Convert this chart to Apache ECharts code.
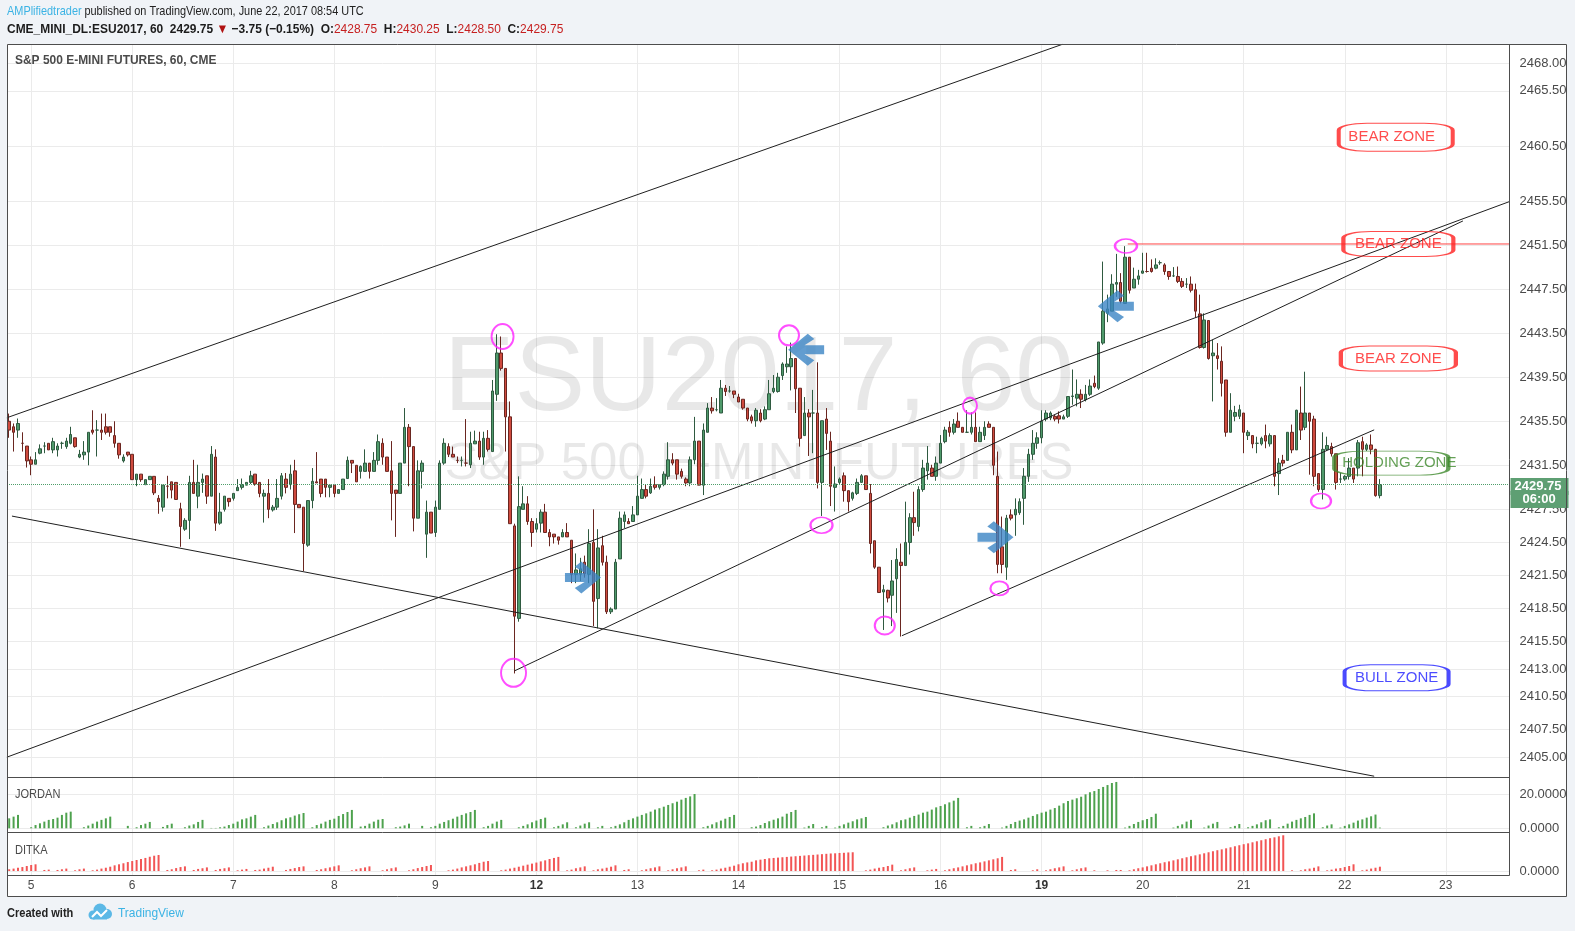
<!DOCTYPE html>
<html><head><meta charset="utf-8">
<script src="https://cdn.jsdelivr.net/npm/echarts@6/dist/echarts.min.js"></script>
<style>html,body{margin:0;padding:0;background:#f0f3f7;}#c{width:1575px;height:931px;}</style>
</head><body><div id="c"></div>
<script>
// ---------------- DATA ----------------
const dayLabels = ['5','6','7','8','9','12','13','14','15','16','19','20','21','22','23'];
const weekStartLabels = ['12','19'];
const FIRST_DAY_INDEX = 5, BARS_PER_DAY = 23, N_SLOTS = 342;

const opens = [
2435.5,2435.0,2434.7,2433.5,2433.25,2432.0,2431.6,2432.6,2433.25,2433.5,
2432.9,2432.9,2433.5,2433.2,2433.5,2434.0,2432.25,2432.45,2432.7,2434.7,
2434.7,2434.7,2435.0,2435.0,2434.2,2433.5,2431.9,2432.7,2432.5,2430.2,
2430.7,2429.75,2430.2,2430.5,2428.5,2427.7,2429.6,2430.0,2429.95,2427.55,
2425.7,2426.5,2429.95,2428.7,2429.95,2430.55,2428.7,2432.25,2426.25,2427.5,
2428.5,2428.5,2429.2,2429.5,2429.7,2429.95,2430.7,2429.95,2428.7,2428.95,
2427.45,2427.7,2428.7,2430.25,2429.75,2431.0,2427.95,2427.7,2424.25,2428.3,
2430.0,2430.25,2430.25,2429.5,2429.7,2428.95,2429.3,2430.3,2431.95,2431.5,
2430.95,2430.95,2431.7,2430.95,2431.95,2433.5,2432.25,2431.0,2429.25,2428.95,
2431.7,2434.95,2433.2,2426.7,2430.95,2425.25,2427.25,2425.4,2427.5,2431.7,
2433.2,2432.5,2431.95,2431.95,2431.7,2431.55,2433.45,2433.7,2432.25,2433.95,
2432.75,2437.95,2441.7,2440.3,2435.9,2426.0,2417.6,2427.5,2428.0,2426.4,
2425.7,2426.25,2427.25,2425.4,2425.25,2425.0,2425.0,2425.4,2424.7,2421.6,
2421.6,2422.7,2421.6,2424.5,2419.4,2424.2,2422.7,2418.2,2418.45,2423.0,
2426.4,2426.4,2426.4,2427.0,2428.5,2429.3,2429.0,2429.75,2429.5,2429.75,
2430.5,2432.0,2432.0,2430.95,2430.25,2429.9,2432.0,2433.7,2429.7,2434.5,
2436.7,2436.55,2436.25,2438.5,2438.25,2438.25,2437.7,2437.5,2436.7,2435.9,
2435.55,2436.25,2435.7,2436.55,2438.2,2438.2,2439.65,2440.45,2440.45,2441.2,
2438.5,2434.2,2436.25,2436.25,2436.25,2429.95,2435.7,2433.7,2429.5,2429.95,
2430.55,2429.2,2428.5,2428.95,2429.95,2430.55,2428.95,2424.65,2422.25,2420.0,
2420.15,2419.7,2421.2,2422.7,2422.4,2424.5,2426.75,2425.95,2429.3,2431.0,
2431.25,2430.5,2431.7,2433.65,2434.95,2434.5,2435.5,2434.95,2434.5,2434.5,
2434.95,2433.65,2434.2,2435.25,2434.95,2430.5,2424.1,2422.25,2427.0,2427.0,
2427.2,2428.5,2430.5,2432.5,2433.5,2434.0,2435.7,2435.8,2435.95,2436.0,
2435.7,2435.95,2437.75,2437.6,2437.95,2437.45,2437.95,2438.95,2438.5,2442.6,
2445.3,2445.5,2447.95,2448.1,2446.2,2450.4,2447.6,2448.4,2448.95,2449.1,
2449.4,2449.4,2449.9,2449.7,2449.1,2448.7,2448.65,2448.2,2447.95,2447.95,
2447.45,2445.25,2442.2,2444.65,2441.45,2441.45,2440.95,2439.25,2434.5,2435.95,
2435.95,2436.25,2434.2,2434.2,2433.5,2433.45,2434.2,2433.45,2434.2,2430.75,
2431.95,2431.95,2434.5,2432.9,2436.25,2434.95,2436.25,2435.7,2430.75,2429.3,
2432.95,2433.2,2432.55,2430.25,2430.25,2430.5,2431.25,2431.25,2433.65,2432.95,
2433.35,2432.95,2428.75];
const closes = [
2434.7,2434.5,2435.3,2433.5,2431.9,2431.6,2432.0,2433.0,2433.25,2432.9,
2433.65,2433.25,2433.5,2433.7,2434.3,2433.2,2432.5,2432.7,2434.5,2434.5,
2434.7,2434.5,2434.5,2434.5,2433.5,2432.45,2432.25,2432.45,2430.2,2430.7,
2430.2,2430.2,2430.5,2429.0,2428.2,2429.7,2429.6,2429.25,2428.4,2425.95,
2426.5,2429.95,2428.95,2429.95,2430.25,2428.7,2432.5,2426.25,2427.25,2428.7,
2428.2,2428.95,2429.5,2429.75,2429.95,2430.55,2429.8,2428.95,2428.95,2427.5,
2427.7,2428.5,2430.55,2429.5,2430.7,2427.95,2427.65,2424.4,2428.3,2430.05,
2429.9,2428.95,2429.5,2429.7,2428.95,2429.3,2430.25,2431.95,2431.7,2430.0,
2431.4,2431.7,2430.95,2431.95,2433.65,2432.25,2430.95,2428.95,2428.95,2431.7,
2434.95,2433.2,2426.7,2431.0,2431.7,2427.25,2425.35,2427.7,2431.7,2433.5,
2432.5,2432.25,2431.95,2431.95,2431.7,2433.5,2433.7,2432.25,2433.95,2432.95,
2438.25,2441.7,2440.3,2435.9,2426.2,2417.8,2427.75,2428.0,2426.4,2425.4,
2426.2,2427.25,2425.4,2425.0,2425.0,2424.7,2425.4,2425.0,2421.6,2422.0,
2422.1,2421.65,2424.4,2419.15,2424.0,2422.7,2418.2,2418.45,2422.7,2426.7,
2427.0,2426.2,2427.0,2428.7,2429.3,2428.7,2429.6,2429.5,2429.75,2430.7,
2432.0,2431.7,2430.7,2430.5,2429.9,2432.0,2433.7,2429.7,2434.7,2436.7,
2436.45,2436.55,2438.5,2438.2,2438.25,2437.95,2437.25,2436.7,2435.7,2435.55,
2436.5,2435.55,2436.55,2438.0,2438.5,2439.5,2440.7,2440.7,2441.2,2438.45,
2433.95,2436.25,2435.9,2436.25,2429.95,2435.55,2434.4,2429.6,2429.8,2430.25,
2429.2,2428.2,2429.0,2429.95,2430.55,2429.3,2424.4,2422.25,2419.95,2420.2,
2419.45,2421.0,2422.95,2422.4,2424.5,2426.75,2426.3,2429.3,2431.25,2431.7,
2430.5,2431.7,2433.5,2434.7,2434.5,2435.25,2434.95,2434.5,2434.5,2434.95,
2433.65,2434.5,2434.95,2434.95,2431.5,2422.5,2422.5,2426.7,2426.7,2427.5,
2428.2,2430.5,2432.5,2433.5,2434.0,2435.5,2436.25,2436.25,2435.7,2435.7,
2435.9,2437.75,2437.8,2437.95,2437.5,2437.95,2438.7,2438.65,2442.7,2445.5,
2445.7,2447.95,2448.1,2446.4,2450.4,2447.4,2448.4,2448.7,2449.15,2449.1,
2449.1,2449.7,2449.9,2449.1,2448.65,2448.7,2448.2,2447.75,2447.95,2447.4,
2445.5,2442.2,2444.7,2441.2,2441.7,2441.2,2438.95,2434.5,2436.5,2436.3,
2436.55,2434.5,2434.5,2433.45,2433.5,2433.95,2433.7,2434.2,2430.5,2431.7,
2431.7,2434.5,2432.9,2436.5,2434.7,2436.25,2435.5,2430.5,2429.3,2432.95,
2433.3,2432.55,2429.95,2430.25,2430.5,2431.25,2430.25,2433.55,2432.95,2433.35,
2432.95,2428.75,2429.75];
const lows = [
2434.0,2432.75,2434.0,2432.75,2431.3,2430.6,2431.6,2432.5,2432.6,2432.9,
2432.6,2432.3,2433.0,2433.0,2433.4,2433.1,2432.15,2432.0,2431.5,2434.3,
2432.3,2433.8,2434.3,2434.1,2433.1,2432.1,2431.75,2432.3,2430.2,2429.6,
2430.0,2429.7,2430.2,2428.8,2427.1,2427.3,2428.5,2428.5,2428.4,2424.1,
2425.55,2424.8,2428.95,2427.6,2429.0,2428.0,2428.7,2425.55,2426.1,2427.3,
2427.75,2428.3,2429.2,2429.3,2429.7,2429.8,2429.65,2428.6,2426.3,2426.7,
2427.3,2427.45,2428.4,2428.95,2429.3,2425.35,2427.65,2421.9,2424.1,2427.6,
2429.9,2428.6,2428.6,2428.6,2428.6,2428.95,2429.3,2430.3,2430.8,2430.0,
2430.3,2430.95,2430.3,2430.95,2431.55,2431.55,2430.95,2426.5,2425.0,2428.95,
2431.7,2429.6,2425.5,2426.7,2429.4,2423.1,2425.35,2425.0,2427.5,2431.55,
2432.25,2432.25,2431.7,2431.4,2431.4,2431.25,2433.45,2432.0,2431.55,2432.75,
2432.75,2437.35,2440.1,2432.75,2426.2,2412.6,2417.3,2427.5,2426.1,2424.1,
2425.4,2425.4,2425.4,2424.15,2424.4,2424.3,2425.0,2425.0,2420.8,2420.8,
2421.0,2421.3,2420.8,2416.9,2416.7,2422.4,2418.0,2418.0,2418.45,2423.0,
2425.8,2426.2,2426.4,2427.0,2428.5,2428.5,2428.9,2429.3,2429.3,2429.6,
2430.2,2431.5,2430.2,2430.3,2429.6,2429.6,2431.6,2429.7,2428.8,2434.5,
2436.2,2436.4,2436.25,2437.8,2438.1,2437.6,2437.25,2436.55,2435.5,2435.3,
2435.0,2435.4,2435.6,2436.55,2438.05,2438.1,2439.25,2439.9,2438.3,2436.25,
2433.2,2434.2,2432.35,2432.6,2429.4,2426.9,2432.9,2427.8,2427.3,2429.8,
2428.2,2427.3,2428.3,2428.8,2429.95,2429.3,2423.5,2422.1,2419.95,2416.55,
2419.05,2416.9,2418.1,2415.95,2422.4,2423.4,2425.1,2425.5,2429.1,2430.2,
2430.5,2430.1,2431.7,2433.5,2434.1,2434.3,2434.95,2434.5,2434.45,2434.3,
2433.65,2433.65,2433.8,2434.95,2430.6,2421.7,2421.7,2421.1,2426.5,2425.1,
2427.0,2426.1,2430.0,2432.0,2433.0,2433.5,2435.5,2435.6,2435.5,2435.3,
2435.7,2435.8,2437.0,2436.85,2436.7,2437.3,2437.8,2438.5,2438.35,2442.45,
2444.5,2445.5,2446.8,2446.2,2446.2,2447.1,2447.6,2447.9,2448.9,2449.0,
2449.0,2449.3,2449.7,2448.8,2448.35,2448.6,2448.05,2447.6,2447.6,2447.2,
2444.9,2442.1,2442.1,2441.1,2437.3,2440.2,2437.75,2434.1,2434.5,2435.5,
2435.7,2432.6,2433.8,2433.05,2432.6,2433.3,2433.05,2433.2,2429.6,2428.8,
2431.4,2431.9,2432.6,2432.9,2433.8,2434.7,2430.65,2429.6,2429.1,2428.4,
2432.8,2432.3,2429.3,2429.9,2430.1,2430.2,2429.9,2430.5,2430.5,2432.8,
2432.5,2428.65,2428.5];
const highs = [
2436.2,2435.3,2435.75,2434.5,2433.25,2432.3,2432.7,2433.4,2433.6,2433.5,
2434.0,2433.5,2433.65,2434.0,2435.0,2434.0,2432.9,2433.7,2434.5,2436.5,
2435.6,2436.2,2436.2,2435.0,2435.5,2433.5,2432.5,2432.7,2432.5,2430.7,
2430.7,2430.2,2430.5,2430.5,2428.8,2429.7,2430.55,2430.0,2429.95,2428.1,
2426.7,2430.55,2432.0,2431.55,2430.75,2430.55,2433.25,2432.95,2429.0,2428.7,
2428.5,2428.95,2430.25,2430.3,2429.95,2431.0,2430.7,2429.95,2429.3,2430.25,
2427.9,2430.25,2430.8,2430.8,2431.55,2432.0,2427.95,2427.7,2428.3,2431.25,
2432.7,2430.25,2430.25,2429.7,2429.7,2429.3,2430.25,2432.3,2431.95,2431.5,
2431.5,2432.95,2431.7,2432.7,2434.3,2433.95,2432.25,2433.7,2429.25,2431.7,
2436.7,2435.25,2433.2,2431.95,2431.95,2428.3,2427.25,2428.3,2431.95,2433.95,
2433.5,2433.2,2432.3,2432.3,2435.7,2434.55,2434.65,2434.55,2434.55,2434.7,
2439.25,2443.4,2443.2,2440.3,2437.3,2426.2,2430.5,2429.6,2428.7,2426.7,
2426.7,2427.5,2428.0,2425.7,2425.25,2425.0,2425.7,2426.25,2424.7,2423.5,
2423.1,2423.3,2425.7,2427.5,2425.7,2425.1,2423.3,2418.6,2423.0,2427.3,
2427.3,2426.7,2427.8,2430.55,2430.3,2429.75,2430.3,2430.5,2429.75,2430.95,
2433.6,2432.6,2432.0,2431.2,2430.4,2432.3,2435.9,2433.7,2435.3,2437.15,
2437.7,2437.6,2439.25,2438.8,2438.7,2438.25,2438.0,2437.5,2436.7,2436.1,
2436.7,2436.6,2436.85,2439.25,2439.7,2439.9,2440.85,2442.3,2442.65,2441.2,
2438.5,2437.7,2436.6,2438.35,2440.85,2435.55,2436.7,2434.55,2431.4,2430.4,
2430.85,2429.2,2429.1,2430.3,2430.7,2430.55,2429.8,2424.65,2422.25,2420.65,
2420.2,2422.9,2423.97,2424.4,2428.2,2427.15,2429.1,2429.6,2432.0,2433.25,
2431.55,2432.3,2434.25,2435.0,2435.5,2435.7,2436.3,2434.95,2436.5,2436.3,
2436.3,2435.0,2435.5,2435.5,2434.95,2432.75,2426.85,2427.0,2427.5,2428.5,
2428.5,2431.25,2433.0,2434.7,2434.5,2436.5,2436.5,2436.4,2436.1,2436.4,
2436.1,2437.75,2440.2,2439.3,2438.4,2438.8,2439.3,2439.65,2442.7,2450.0,
2447.0,2448.85,2450.7,2448.95,2451.4,2450.4,2449.45,2449.25,2450.8,2450.8,
2450.2,2450.3,2450.1,2449.85,2449.1,2449.5,2449.55,2448.5,2448.5,2448.65,
2448.0,2447.0,2445.3,2444.65,2442.9,2442.6,2442.3,2439.25,2438.05,2436.9,
2437.0,2436.25,2434.7,2434.2,2434.1,2434.1,2435.2,2434.4,2434.2,2432.15,
2432.45,2434.5,2435.2,2436.55,2438.65,2440.0,2436.25,2436.0,2430.75,2434.5,
2434.1,2433.55,2432.55,2430.8,2430.6,2432.15,2431.25,2433.8,2434.1,2433.5,
2434.3,2433.0,2430.25];

const jordan = [
5.8,6.8,7.8,0,0,0.6,1.9,2.9,3.9,4.9,
5.4,6.2,7.8,9.1,9.7,0,0,0.6,1.6,2.7,
3.9,4.9,5.8,6.8,0,0,0,1.4,0,0.6,
1.9,2.7,3.7,0,0,0.8,1.9,2.7,0,0,
0.6,1.6,2.3,3.7,4.9,0,0.2,0.2,0.6,1.0,
1.9,2.7,3.9,5.2,5.8,6.8,7.8,0,0.6,1.6,
2.5,3.5,4.7,5.8,6.4,7.4,8.2,8.9,0,0.6,
1.9,2.7,3.9,4.9,5.6,7.2,8.3,9.5,10.7,0,
1.0,1.4,2.7,3.9,5.0,5.4,0,0,0.6,1.0,
1.7,2.7,0,0,1.4,0,0.6,1.4,2.7,3.7,
4.7,5.6,6.8,7.8,8.7,9.5,10.7,0,0.6,1.4,
2.7,3.9,4.9,0,0,0,0.6,1.4,2.3,3.5,
4.5,5.4,6.2,0,0.6,1.4,2.3,3.5,0,0.6,
1.6,2.7,3.5,0,0.6,1.4,0,0.6,1.4,2.3,
3.5,4.9,5.8,6.8,7.8,8.7,9.7,10.9,11.7,12.6,
13.6,14.6,15.5,16.7,17.7,18.6,20.0,0,0.6,1.4,
2.3,3.5,4.5,5.6,6.6,7.8,0,0,0,0.6,
1.0,1.9,3.1,4.1,5.0,5.8,6.8,8.5,9.5,10.7,
0,0.4,1.4,2.5,0,0.6,1.4,0,0.4,1.4,
2.3,3.3,4.1,5.2,5.8,6.6,0,0,0,0.6,
1.6,2.3,3.5,4.7,5.2,6.2,7.2,8.0,9.1,9.7,
10.9,12.2,13.0,14.0,15.1,16.1,17.7,0,0.6,1.4,
0,0.6,1.4,2.5,0,0,0.4,1.4,2.5,3.7,
4.5,5.2,6.2,7.2,8.2,9.1,9.7,10.9,11.8,13.2,
14.6,15.9,16.7,17.5,18.4,19.8,21.0,21.7,22.9,24.1,
25.2,26.4,27.0,0,0.4,1.4,2.5,3.7,4.7,5.4,
6.6,8.5,0,0,0,0.4,1.4,2.3,3.9,4.9,
0,0,0.4,1.6,2.7,3.7,0,0,0.6,1.4,
2.5,0,0.6,1.4,2.3,3.5,4.7,5.2,0,0.6,
1.4,2.7,3.9,4.9,5.8,6.6,7.8,8.7,0,0.6,
1.6,2.3,0,0.4,1.4,2.3,3.3,4.5,5.2,6.2,
7.0,8.0,0.4];
const ditka = [
1.0,1.4,1.9,2.3,2.9,3.5,3.9,0,0.6,0.8,
0,0.6,1.0,1.4,0,0.4,1.0,1.4,0,0.4,
0.8,1.4,1.9,2.5,3.3,3.9,4.5,5.2,5.8,6.4,
7.0,7.6,8.3,8.9,9.3,0,0.6,1.0,1.7,2.3,
2.7,0,0.6,1.2,1.6,2.1,0,0.6,1.2,1.6,
2.1,0,0.4,0.8,1.2,0,0.6,0.8,1.4,1.9,
2.5,0,0,0.6,1.2,1.7,2.3,2.7,0,0,
0.6,1.0,1.6,2.1,2.7,3.3,0,0,0.4,1.0,
1.6,2.1,2.7,0,0,0.4,1.0,1.6,2.1,0,
0,0.4,1.0,1.7,2.3,2.9,3.5,0,0,0,
0.4,0.8,1.4,2.1,2.7,3.3,3.9,4.7,5.4,5.8,
0,0,0.4,0.8,1.4,1.9,2.5,3.1,3.7,4.3,
4.9,5.6,6.2,7.0,7.6,8.2,0,0.4,0.8,1.6,
2.1,2.7,0,0.4,1.0,1.4,1.9,2.5,3.3,0,
0.6,1.0,0,0,0.4,1.0,1.6,2.1,2.7,0,
0.4,1.0,1.6,2.1,2.7,0,0,0.4,0.8,0,
0.4,0.8,1.4,1.9,2.5,3.1,3.9,4.5,5.0,5.4,
6.2,6.6,7.0,7.4,7.6,7.8,8.0,8.2,8.4,8.6,
8.8,9.0,9.2,9.4,9.6,9.8,10.0,10.2,10.3,10.5,
10.6,10.8,10.9,0,0,0.4,0.8,1.4,1.9,2.3,
2.9,3.7,0,0.4,1.0,1.6,2.1,0,0,0.4,
0.8,1.2,0,0.4,1.0,1.6,2.1,2.7,3.3,3.9,
4.5,5.0,5.6,6.2,6.8,7.4,8.2,0,0.6,1.0,
0,0,0,0.4,1.0,0,0.4,1.0,1.6,2.1,
2.7,0,0.4,1.0,1.6,2.1,0,0.4,0,0,
0.4,0,0.6,0.6,0,0.4,1.0,1.6,2.1,2.7,
3.3,3.9,4.5,5.1,5.6,6.2,6.8,7.4,8.0,8.6,
9.1,9.7,10.3,10.9,11.5,12.1,12.6,13.2,13.8,14.4,
15.0,15.6,16.1,16.7,17.3,17.9,18.5,19.1,19.6,20.2,
20.8,0,0.4,0,0.4,1.0,1.4,1.9,2.7,0,
0.4,0.8,1.4,1.7,2.3,2.9,3.9,0,0.4,0.8,
1.4,1.9,2.5];

const priceTicks = [2468.00,2465.50,2460.50,2455.50,2451.50,2447.50,2443.50,2439.50,2435.50,2431.50,2427.50,2424.50,2421.50,2418.50,2415.50,2413.00,2410.50,2407.50,2405.00];
const jordanTicks = [0, 20];
const ditkaTicks = [0];

// drawn annotations (bar index, price)
const trendLines = [
  [[-0.53, 2435.82], [239.8, 2469.74]],
  [[0.63, 2426.89], [310.7, 2403.27]],
  [[-0.53, 2405.0], [341.5, 2455.45]],
  [[203.2, 2416.03], [310.7, 2434.72]],
  [[115.05, 2412.84], [330.9, 2453.69]]
];
const resistanceLine = [[254.6, 2451.6], [341.5, 2451.6]];
const circlePoints = [[112.3,2443.2],[114.8,2412.66],[177.5,2443.3],[184.9,2426.06],[199.3,2416.95],[218.7,2436.92],[225.4,2420.32],[254.2,2451.41],[298.6,2428.26]];
const arrowPoints = [[130.6,2421.32],[181.4,2442.0],[224.5,2424.97],[251.9,2445.94]];
const arrowDirections = ['right','left','right','left'];
const zoneNames = ['BEAR ZONE','BEAR ZONE','BEAR ZONE','HOLDING ZONE','BULL ZONE'];
const zonePoints = [[315.6,2461.3],[316.2,2451.6],[316.2,2441.2],[314.6,2431.7],[315.8,2412.2]];

// ---------------- STYLES ----------------
const circleSizes = [[22,25],[25,28],[20,20],[22,16],[20,18],[14,16],[18,14],[22,14],[20,15]];
const zoneSizes = [[114,28],[110,25],[115,25],[114,24],[104,26]];
const zoneColors = ['#ff1f1f','#ff1f1f','#ff1f1f','#3f8a2d','#1e1eff'];
const zoneTextOffsets = [[-4,0],[0,0],[0,0],[8,0],[0,0]];
const SANS = '"Liberation Sans",Arial,sans-serif';
const GRID_C = '#ebebeb';

// ---------------- BUILD ----------------
const categories = [];
for (let i = 0; i < N_SLOTS; i++) {
  const k = i - FIRST_DAY_INDEX;
  const d = Math.floor(k / BARS_PER_DAY);
  const off = ((k % BARS_PER_DAY) + BARS_PER_DAY) % BARS_PER_DAY;
  const hour = off <= 20 ? off : off + 1;
  const dn = d < 0 ? '2' : dayLabels[d];
  categories.push(dn + ' ' + String(hour).padStart(2, '0') + ':00');
}
const dayStartIdx = dayLabels.map((_, d) => FIRST_DAY_INDEX + d * BARS_PER_DAY);
const candleData = opens.map((o, i) => [o, closes[i], lows[i], highs[i]]);
const last = candleData.length - 1;
const lastClose = closes[last];

const arrowPath = 'path://M0,10 L18,10 L9,3 L15,-3 L33,15 L15,33 L9,27 L18,20 L0,20 Z';

function gridMarkLines(ticks, fmt, withDays) {
  const d = ticks.map(v => ({yAxis: v, label: {show: true, formatter: fmt(v)}}));
  if (withDays) dayStartIdx.forEach(i => d.push({xAxis: categories[i], label: {show: false}}));
  return {
    silent: true, symbol: ['none', 'none'], animation: false, z: 0,
    lineStyle: {color: GRID_C, width: 1, type: 'solid'},
    label: {position: 'end', distance: 10, color: '#4a4a4a', fontSize: 13, fontFamily: SANS},
    emphasis: {disabled: true},
    data: d
  };
}

const chart = echarts.init(document.getElementById('c'), null, {renderer: 'canvas'});
const series = [
  {type: 'line', xAxisIndex: 0, yAxisIndex: 0, data: [null], showSymbol: false, silent: true, z: 0,
   lineStyle: {opacity: 0}, markLine: gridMarkLines(priceTicks, v => v.toFixed(2), true)},
  {type: 'line', xAxisIndex: 1, yAxisIndex: 1, data: [null], showSymbol: false, silent: true, z: 0,
   lineStyle: {opacity: 0}, markLine: gridMarkLines(jordanTicks, v => v.toFixed(4), true)},
  {type: 'line', xAxisIndex: 2, yAxisIndex: 2, data: [null], showSymbol: false, silent: true, z: 0,
   lineStyle: {opacity: 0}, markLine: gridMarkLines(ditkaTicks, v => v.toFixed(4), true)},
  {type: 'candlestick', xAxisIndex: 0, yAxisIndex: 0, data: candleData, barWidth: 3, z: 3, silent: true,
   itemStyle: {color: '#4f9a6b', color0: '#cf4a3e', borderColor: '#2f5a40', borderColor0: '#6a2620', borderWidth: 1},
   markLine: {silent: true, symbol: ['none', 'none'], animation: false, z: 6,
     lineStyle: {color: '#4f9e6a', type: 'dotted', width: 1},
     label: {position: 'end', distance: 1, offset: [0, 8.5],
       formatter: '{p|' + lastClose.toFixed(2) + '}\n{t|06:00}',
       rich: {
         p: {backgroundColor: '#5e9f73', color: '#fff', fontSize: 13, fontWeight: 'bold', fontFamily: SANS, width: 50, padding: [2, 4, 2, 4], lineHeight: 13, align: 'left'},
         t: {backgroundColor: '#5e9f73', color: '#fff', fontSize: 13, fontWeight: 'bold', fontFamily: SANS, width: 42, padding: [2, 4, 2, 12], lineHeight: 13, align: 'left'}
       }},
     data: [{yAxis: lastClose}]}},
  {type: 'bar', xAxisIndex: 1, yAxisIndex: 1, data: jordan, barWidth: 2, silent: true, z: 2, itemStyle: {color: '#4ea24e'}},
  {type: 'bar', xAxisIndex: 2, yAxisIndex: 2, data: ditka, barWidth: 2, silent: true, z: 2, itemStyle: {color: '#f25555'}}
];
trendLines.forEach(seg => series.push({type: 'line', xAxisIndex: 3, yAxisIndex: 0, data: seg, showSymbol: false, silent: true, clip: true, z: 4,
  lineStyle: {color: '#1f1f1f', width: 1}}));
series.push({type: 'line', xAxisIndex: 3, yAxisIndex: 0, data: resistanceLine, showSymbol: false, silent: true, clip: true, z: 4,
  lineStyle: {color: '#ff4444', width: 1}});
series.push({type: 'scatter', xAxisIndex: 3, yAxisIndex: 0, silent: true, z: 5,
  data: circlePoints.map((p, i) => ({value: p, symbolSize: circleSizes[i]})),
  symbol: 'circle', itemStyle: {color: 'rgba(0,0,0,0)', borderColor: '#ff22ff', borderWidth: 2}});
series.push({type: 'scatter', xAxisIndex: 3, yAxisIndex: 0, silent: true, z: 5,
  data: arrowPoints.map((p, i) => ({value: p, symbolRotate: arrowDirections[i] === 'left' ? 180 : 0})),
  symbol: arrowPath, symbolSize: [36, 32], itemStyle: {color: '#3b84c4'}});
series.push({type: 'scatter', xAxisIndex: 3, yAxisIndex: 0, silent: true, z: 5,
  data: zonePoints.map((p, i) => ({value: p, name: zoneNames[i], symbolSize: zoneSizes[i],
    itemStyle: {borderColor: zoneColors[i]}, label: {color: zoneColors[i], offset: zoneTextOffsets[i]}})),
  symbol: 'roundRect', itemStyle: {color: 'rgba(0,0,0,0)', borderWidth: 2},
  label: {show: true, position: 'inside', formatter: p => p.name, fontSize: 15, fontFamily: SANS}});

const hdr2 = '{k|CME_MINI_DL:ESU2017, 60  ' + lastClose.toFixed(2) + ' }{r|▼}{k| −3.75 (−0.15%)  O:}{v|' + opens[last].toFixed(2) +
  '}{k|  H:}{v|' + highs[last].toFixed(2) + '}{k|  L:}{v|' + lows[last].toFixed(2) + '}{k|  C:}{v|' + closes[last].toFixed(2) + '}';

function txt(x, y, sx, style) {
  return {type: 'text', z: 51, silent: true, x: x, y: y, scaleX: sx, scaleY: 1, style: Object.assign({x: 0, y: 0, textVerticalAlign: 'middle'}, style)};
}

const option = {
  animation: false,
  backgroundColor: '#ffffff',
  grid: [
    {left: 7, top: 44.2, width: 1502.5, height: 733},
    {left: 7, top: 777.5, width: 1502.5, height: 54.5},
    {left: 7, top: 832, width: 1502.5, height: 43}
  ],
  xAxis: [
    {type: 'category', gridIndex: 0, data: categories, show: false},
    {type: 'category', gridIndex: 1, data: categories, show: false},
    {type: 'category', gridIndex: 2, data: categories, axisLine: {show: false}, axisTick: {show: false}, splitLine: {show: false},
     axisLabel: {interval: (idx) => dayStartIdx.includes(idx), margin: 5, color: '#4a4a4a', fontSize: 12, fontFamily: SANS,
       formatter: (v) => { const d = v.split(' ')[0]; return weekStartLabels.includes(d) ? '{b|' + d + '}' : d; },
       rich: {b: {fontWeight: 'bold', color: '#333', fontSize: 12, fontFamily: SANS}}}},
    {type: 'value', gridIndex: 0, min: -0.5, max: N_SLOTS - 0.5, show: false}
  ],
  yAxis: [
    {type: 'value', gridIndex: 0, min: 2403.18, max: 2469.74, position: 'right', axisLine: {show: false}, axisTick: {show: false}, axisLabel: {show: false}, splitLine: {show: false}},
    {type: 'value', gridIndex: 1, min: -2.16, max: 29.6, position: 'right', axisLine: {show: false}, axisTick: {show: false}, axisLabel: {show: false}, splitLine: {show: false}},
    {type: 'value', gridIndex: 2, min: -2.33, max: 22.7, position: 'right', axisLine: {show: false}, axisTick: {show: false}, axisLabel: {show: false}, splitLine: {show: false}}
  ],
  series: series,
  graphic: [
    {type: 'rect', z: 0, silent: true, shape: {x: 0, y: 0, width: 1575, height: 44}, style: {fill: '#f0f3f7'}},
    {type: 'rect', z: 0, silent: true, shape: {x: 0, y: 897, width: 1575, height: 34}, style: {fill: '#f0f3f7'}},
    {type: 'rect', z: 0, silent: true, shape: {x: 0, y: 44, width: 7, height: 853}, style: {fill: '#f0f3f7'}},
    {type: 'rect', z: 0, silent: true, shape: {x: 1567, y: 44, width: 8, height: 853}, style: {fill: '#f0f3f7'}},
    {type: 'text', z: 1, silent: true, style: {x: 759, y: 381, text: 'ESU2017, 60', fill: 'rgba(0,0,0,0.09)', font: '106px ' + SANS, textAlign: 'center', textVerticalAlign: 'middle'}},
    {type: 'text', z: 1, silent: true, style: {x: 759, y: 465, text: 'S&P 500 E-MINI FUTURES', fill: 'rgba(0,0,0,0.09)', font: '51px ' + SANS, textAlign: 'center', textVerticalAlign: 'middle'}},
    {type: 'rect', z: 50, silent: true, shape: {x: 7.5, y: 44.5, width: 1559, height: 852}, style: {fill: 'none', stroke: '#4d4d4d', lineWidth: 1}},
    {type: 'line', z: 50, silent: true, shape: {x1: 1509.5, y1: 44, x2: 1509.5, y2: 875.5}, style: {stroke: '#4d4d4d', lineWidth: 1}},
    {type: 'line', z: 50, silent: true, shape: {x1: 7, y1: 777.5, x2: 1509.5, y2: 777.5}, style: {stroke: '#4d4d4d', lineWidth: 1}},
    {type: 'line', z: 50, silent: true, shape: {x1: 7, y1: 832.5, x2: 1509.5, y2: 832.5}, style: {stroke: '#4d4d4d', lineWidth: 1}},
    {type: 'line', z: 50, silent: true, shape: {x1: 7, y1: 875.5, x2: 1509.5, y2: 875.5}, style: {stroke: '#4d4d4d', lineWidth: 1}},
    txt(7, 11, 0.84, {text: '{a|AMPlifiedtrader} {b|published on TradingView.com, June 22, 2017 08:54 UTC}',
      rich: {a: {fill: '#3bb3e4', font: '13px ' + SANS}, b: {fill: '#222', font: '13px ' + SANS}}}),
    txt(7, 29, 0.92, {text: hdr2,
      rich: {k: {fill: '#1c1c1c', font: 'bold 13px ' + SANS}, r: {fill: '#b01212', font: '13px ' + SANS}, v: {fill: '#c62020', font: '13px ' + SANS}}}),
    txt(15, 60.5, 0.92, {text: 'S&P 500 E-MINI FUTURES, 60, CME', fill: '#4a4a4a', font: 'bold 13px ' + SANS}),
    txt(15, 794.5, 0.85, {text: 'JORDAN', fill: '#4a4a4a', font: '13px ' + SANS}),
    txt(15, 850, 0.85, {text: 'DITKA', fill: '#4a4a4a', font: '13px ' + SANS}),
    txt(7, 913, 0.85, {text: 'Created with', fill: '#222', font: 'bold 13px ' + SANS}),
    {type: 'circle', z: 51, silent: true, shape: {cx: 93, cy: 915, r: 4.5}, style: {fill: '#5bb8e6'}},
    {type: 'circle', z: 51, silent: true, shape: {cx: 100, cy: 910, r: 6.5}, style: {fill: '#5bb8e6'}},
    {type: 'circle', z: 51, silent: true, shape: {cx: 107, cy: 914, r: 5}, style: {fill: '#5bb8e6'}},
    {type: 'rect', z: 51, silent: true, shape: {x: 93, y: 913, width: 14, height: 6.5}, style: {fill: '#5bb8e6'}},
    {type: 'polyline', z: 52, silent: true, shape: {points: [[92, 917], [97, 912], [101, 916], [107, 910]]}, style: {stroke: '#ffffff', lineWidth: 2, fill: null}},
    txt(118, 913, 0.92, {text: 'TradingView', fill: '#3bb3e4', font: '13px ' + SANS})
  ]
};
chart.setOption(option);
</script></body></html>
